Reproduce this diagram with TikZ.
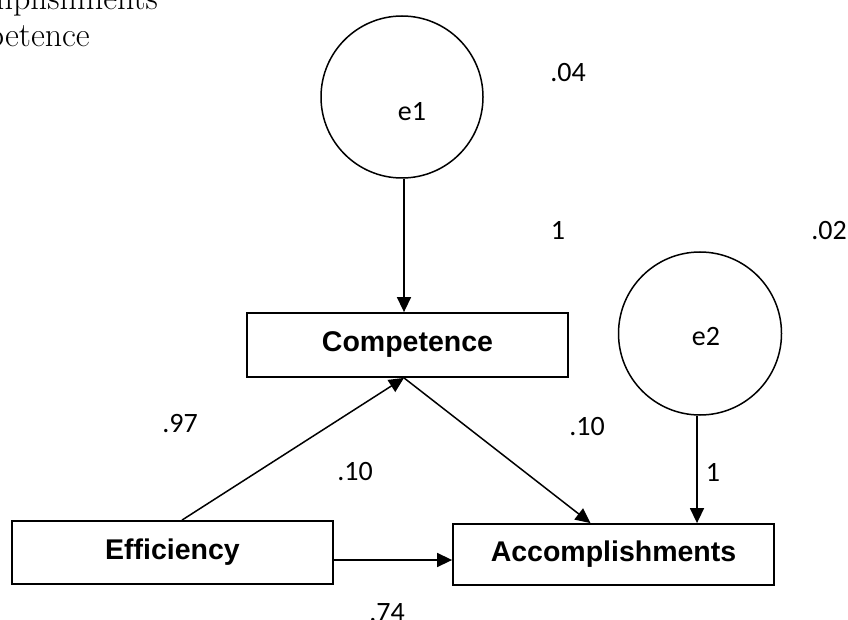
\documentclass[tikz,border=0pt]{standalone}
\usepackage{fontspec}
\usetikzlibrary{arrows.meta}
\newfontfamily\arialfont{Liberation Sans}
\newfontfamily\calibfont{Carlito}
\begin{document}
\begin{tikzpicture}[x=1pt,y=-1pt,
  boxnode/.style={draw, line width=1.8pt, inner sep=0pt, font=\arialfont\fontsize{28.5}{34}\selectfont\bfseries},
  circnode/.style={draw, circle, line width=1.5pt, inner sep=0pt},
  lbl/.style={font=\calibfont\fontsize{28}{34}\selectfont, inner sep=0pt, anchor=base},
  serif/.style={font=\fontsize{34}{40}\selectfont, inner sep=0pt, anchor=base east},
  arr/.style={-{Triangle[length=15pt,width=14pt]}, line width=1.5pt}]
\useasboundingbox (0,0) rectangle (848,620);
\clip (0,0) rectangle (848,620);
\fill[white] (0,0) rectangle (848,620);

\node[serif] (t1) at (158,10) {Accomplishments};
\node[serif] (t2) at (90,47) {Competence};

\node[circnode, minimum size=162pt,
  label={[lbl, xshift=10pt, yshift=-15pt]center:e1}] (e1) at (402,97) {};
\node[circnode, minimum size=163pt,
  label={[lbl, xshift=6pt, yshift=-3.5pt]center:e2}] (e2) at (700,333.5) {};

\node[boxnode, minimum width=321pt, minimum height=64pt] (comp) at (407.5,345) {Competence};
\node[boxnode, minimum width=321pt, minimum height=63pt] (eff) at (172.5,552.5) {Efficiency};
\node[boxnode, minimum width=321pt, minimum height=61pt] (acc) at (613.5,554.5) {Accomplishments};

\coordinate (cb) at ([xshift=-3.5pt]comp.south);
\draw[arr] ([xshift=2pt]e1.south) -- ([xshift=2pt]e1.south |- comp.north);
\draw[arr] ([xshift=9.5pt]eff.north) -- (cb);
\draw[arr] (cb) -- ([xshift=-23pt]acc.north);
\draw[arr] ([xshift=-3pt]e2.south) -- ([xshift=-3pt]e2.south |- acc.north);
\draw[arr] ([yshift=-7.5pt]eff.east) -- ([yshift=-7.5pt]eff.east -| acc.west);

\node[lbl] (l04) at (568,82) {.04};
\node[lbl] (l1a) at (558,240) {1};
\node[lbl] (l02) at (829,240) {.02};
\node[lbl] (l97) at (180,432) {.97};
\node[lbl] (l10a) at (355,480) {.10};
\node[lbl] (l10b) at (587,435) {.10};
\node[lbl] (l1b) at (713,481) {1};
\node[lbl] (l74) at (387,621) {.74};
\end{tikzpicture}
\end{document}
